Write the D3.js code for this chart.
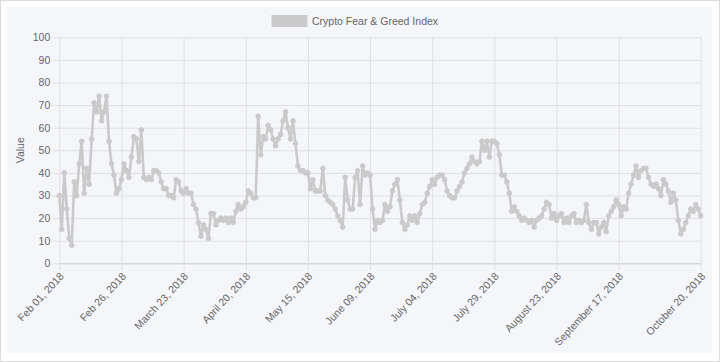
<!DOCTYPE html>
<html>
<head>
<meta charset="utf-8">
<script src="https://cdn.jsdelivr.net/npm/d3@7/dist/d3.min.js"></script>
<style>
  html, body { margin: 0; padding: 0; background: #fff; }
  svg { display: block; font-family: "Liberation Sans", Arial, Helvetica, sans-serif; }
</style>
</head>
<body>
<svg id="chart" width="720" height="362"></svg>
<script>
// ---------------- data ----------------
const seriesName = "Crypto Fear & Greed Index";
const startDate = "2018-02-01";
const endDate = "2018-10-20";
const missingDates = ["2018-04-14", "2018-04-15", "2018-04-16"];

const values = [
  30,15,40,24,11,8,36,30,44,54,
  31,42,35,55,71,67,74,63,67,74,
  54,44,39,31,33,37,44,41,38,47,
  56,55,45,59,38,37,38,37,41,41,
  40,36,33,33,30,30,29,37,36,32,
  31,33,31,31,26,24,18,12,17,15,
  11,22,22,17,19,20,19,20,18,20,
  18,23,26,24,25,27,32,31,29,29,
  65,48,56,55,61,59,55,52,55,57,
  63,67,60,55,63,53,43,41,41,40,
  40,33,37,32,32,32,42,30,28,27,
  26,24,21,19,16,38,28,24,24,38,
  41,26,43,39,40,39,24,15,19,18,
  19,26,23,25,32,35,37,28,18,15,
  17,21,19,21,18,22,26,27,31,34,
  37,35,38,39,39,37,32,30,29,29,
  32,34,36,40,42,44,47,45,44,45,
  54,50,54,47,54,54,53,48,39,39,
  36,31,23,25,23,21,19,20,19,18,
  19,16,19,20,21,24,27,26,20,22,
  19,21,22,18,20,18,21,22,18,19,
  18,19,26,18,15,18,18,13,16,18,
  14,21,23,25,28,26,21,25,24,31,
  35,39,43,38,41,42,42,38,35,34,
  35,33,30,37,35,32,27,31,28,19,
  13,15,18,21,24,23,26,24,21
];

const xTicks = ["2018-02-01","2018-02-26","2018-03-23","2018-04-20","2018-05-15","2018-06-09",
                "2018-07-04","2018-07-29","2018-08-23","2018-09-17","2018-10-20"];
const xTickLabels = ["Feb 01, 2018","Feb 26, 2018","March 23, 2018","April 20, 2018","May 15, 2018",
                     "June 09, 2018","July 04, 2018","July 29, 2018","August 23, 2018",
                     "September 17, 2018","October 20, 2018"];
const yTicks = [0,10,20,30,40,50,60,70,80,90,100];
const yTitle = "Value";

// categories: consecutive days with the gaps present in the source
const categories = [];
{
  const fmt = d3.utcFormat("%Y-%m-%d");
  let d = new Date(startDate + "T00:00:00Z");
  const end = new Date(endDate + "T00:00:00Z");
  while (d <= end) {
    const s = fmt(d);
    if (!missingDates.includes(s)) categories.push(s);
    d = d3.utcDay.offset(d, 1);
  }
}
const data = categories.map((c, i) => ({ c, v: values[i] }));

// ---------------- layout ----------------
const svg = d3.select("#chart");
const W = 720, H = 362;
const pL = 59.3, pR = 700.7, pT = 37.3, pB = 263.3;
const textColor = "#666";
const gridColor = "#dfe0e4";
const lineColor = "#cacaca";
const fontSize = 10.5;

svg.append("rect").attr("x", 0.5).attr("y", 0.5).attr("width", W - 1).attr("height", H - 1)
  .attr("fill", "#fff").attr("stroke", "#dcdcdc");
svg.append("rect").attr("x", 7).attr("y", 7).attr("width", 705).attr("height", 346)
  .attr("fill", "#f5f6fa");

const x = d3.scalePoint().domain(categories).range([pL, pR]);
const y = d3.scaleLinear().domain([0, 100]).range([pB, pT]);

// horizontal grid + y ticks
const yAxis = svg.append("g").attr("transform", `translate(${pL},0)`)
  .call(d3.axisLeft(y).tickValues(yTicks).tickSize(7).tickPadding(2).tickFormat(d3.format("d")));
yAxis.select(".domain").remove();
yAxis.selectAll(".tick line").attr("stroke", gridColor);
yAxis.selectAll(".tick text").attr("fill", textColor).attr("font-size", fontSize)
  .attr("font-family", "Liberation Sans, Arial, sans-serif");

const yGrid = svg.append("g").attr("transform", `translate(${pL},0)`)
  .call(d3.axisLeft(y).tickValues(yTicks).tickSize(-(pR - pL)).tickFormat(""));
yGrid.select(".domain").remove();
yGrid.selectAll(".tick line").attr("stroke", d => d === 0 ? "#c8c9cd" : gridColor);

// vertical grid + x ticks
const labelOf = c => xTickLabels[xTicks.indexOf(c)];
const xGrid = svg.append("g").attr("transform", `translate(0,${pB})`)
  .call(d3.axisBottom(x).tickValues(xTicks).tickSize(-(pB - pT)).tickFormat(""));
xGrid.select(".domain").remove();
xGrid.selectAll(".tick line").attr("stroke", gridColor);

const xAxis = svg.append("g").attr("transform", `translate(0,${pB})`)
  .call(d3.axisBottom(x).tickValues(xTicks).tickSize(7).tickFormat(labelOf));
xAxis.select(".domain").remove();
xAxis.selectAll(".tick line").attr("stroke", gridColor);
xAxis.selectAll(".tick text")
  .attr("fill", textColor).attr("font-size", fontSize)
  .attr("font-family", "Liberation Sans, Arial, sans-serif")
  .attr("text-anchor", "end")
  .attr("transform", "translate(2,11) rotate(-47)")
  .attr("x", 0).attr("y", 0).attr("dy", "0.35em");

// y axis title
svg.append("text").attr("transform", `translate(20,${(pT + pB) / 2}) rotate(-90)`)
  .attr("text-anchor", "middle").attr("dy", "0.35em")
  .attr("fill", textColor).attr("font-size", fontSize).text(yTitle);

// legend
svg.append("rect").attr("x", 272).attr("y", 15.5).attr("width", 35).attr("height", 11)
  .attr("fill", lineColor).attr("stroke", lineColor);
svg.append("text").attr("x", 312).attr("y", 21).attr("dy", "0.35em")
  .attr("fill", textColor).attr("font-size", fontSize).text(seriesName);

// line
const line = d3.line().x(d => x(d.c)).y(d => y(d.v));
svg.append("path").datum(data).attr("d", line)
  .attr("fill", "none").attr("stroke", lineColor).attr("stroke-width", 2.6)
  .attr("stroke-linejoin", "round");

svg.append("g").selectAll("circle").data(data).join("circle")
  .attr("cx", d => x(d.c)).attr("cy", d => y(d.v)).attr("r", 2.4)
  .attr("fill", lineColor).attr("stroke", lineColor).attr("stroke-width", 0.8);
</script>
</body>
</html>
